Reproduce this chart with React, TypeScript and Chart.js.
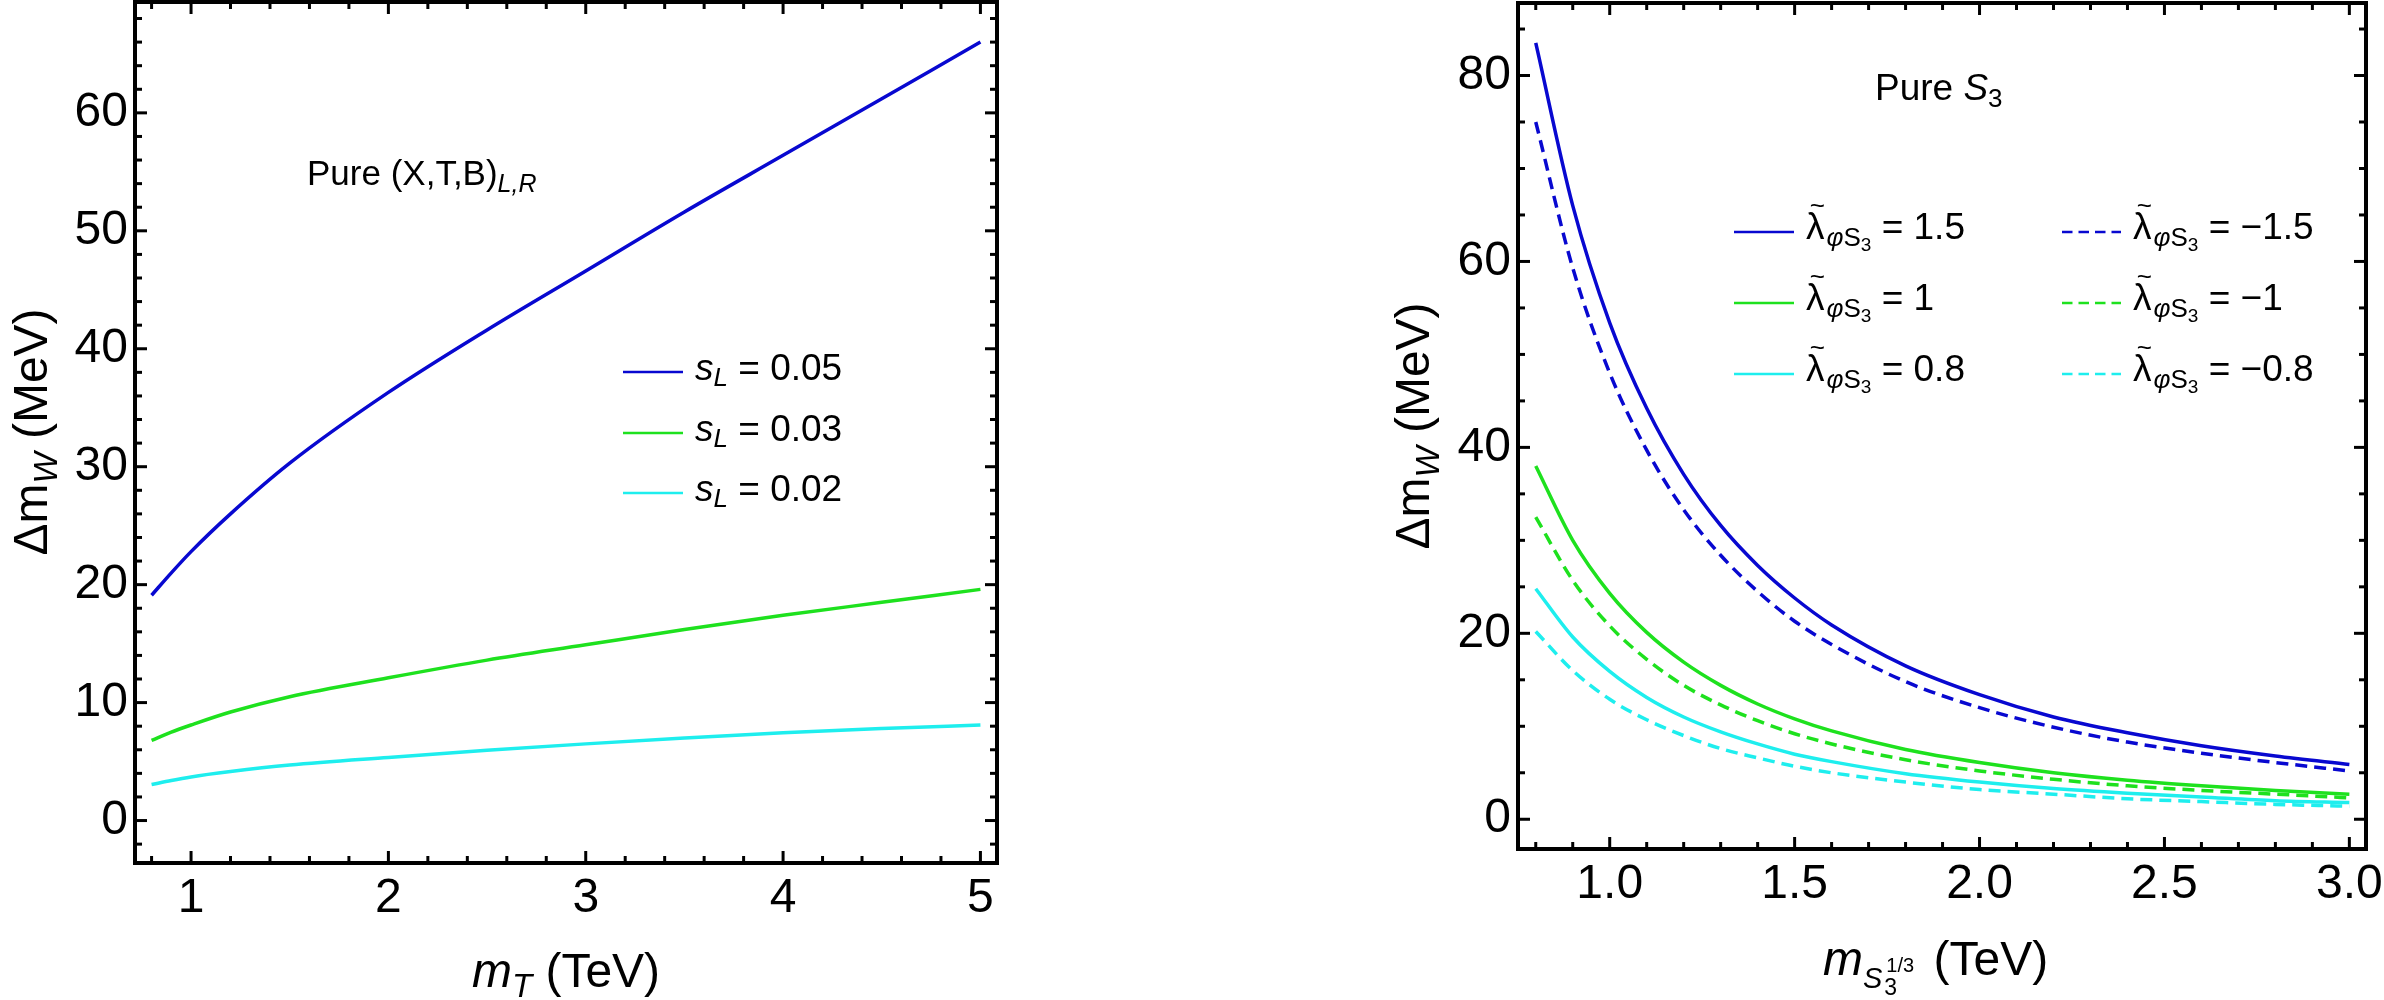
import React, { useEffect, useRef } from "react";
import { Chart, registerables } from "chart.js";

Chart.register(...registerables);

const FONT = '"Liberation Sans", Arial, Helvetica, sans-serif';
const BLUE = "#0808d0";
const GREEN = "#1ee11e";
const CYAN = "#1eeeee";

// ---------- Left panel: Pure (X,T,B)_{L,R} ----------
const mT = [0.8, 0.9, 1.0, 1.2, 1.5, 2.0, 2.5, 3.0, 3.5, 4.0, 4.5, 5.0];
const dmW_sL005 = [19.1, 21.0, 22.8, 26.0, 30.3, 36.3, 41.6, 46.6, 51.6, 56.4, 61.2, 66.0];
const dmW_sL003 = [6.8, 7.5, 8.1, 9.2, 10.5, 12.1, 13.6, 14.9, 16.2, 17.4, 18.5, 19.6];
const dmW_sL002 = [3.05, 3.4, 3.7, 4.15, 4.7, 5.35, 5.95, 6.5, 7.0, 7.45, 7.8, 8.1];
const leftLegendLabels = ["0.05", "0.03", "0.02"];
const leftXTicks = [1, 2, 3, 4, 5];
const leftXTickLabels = ["1", "2", "3", "4", "5"];
const leftYTicks = [0, 10, 20, 30, 40, 50, 60];
const leftYTickLabels = ["0", "10", "20", "30", "40", "50", "60"];
const leftXMinorStep = 0.2;
const leftYMinorStep = 2;
const leftXRange = [0.716, 5.084];
const leftYRange = [-3.6, 69.4];

// ---------- Right panel: Pure S3 ----------
const mS3 = [0.8, 0.9, 1.0, 1.1, 1.2, 1.3, 1.4, 1.5, 1.6, 1.8, 2.0, 2.2, 2.4, 2.6, 2.8, 3.0];
const dmW_lam_p15 = [83.5, 66.0, 53.4, 44.2, 37.1, 31.6, 27.3, 23.8, 20.9, 16.5, 13.4, 11.0, 9.3, 7.9, 6.8, 5.9];
const dmW_lam_p1 = [38.0, 30.0, 24.3, 20.1, 16.9, 14.4, 12.4, 10.8, 9.5, 7.5, 6.1, 5.0, 4.2, 3.6, 3.1, 2.7];
const dmW_lam_p08 = [24.8, 19.6, 15.9, 13.1, 11.0, 9.4, 8.1, 7.0, 6.2, 4.9, 4.0, 3.3, 2.8, 2.4, 2.0, 1.8];
const dmW_lam_m15 = [75.0, 59.3, 48.0, 39.7, 33.3, 28.4, 24.5, 21.3, 18.8, 14.8, 12.0, 9.9, 8.3, 7.1, 6.1, 5.2];
const dmW_lam_m1 = [32.5, 25.7, 20.8, 17.2, 14.4, 12.3, 10.6, 9.2, 8.1, 6.4, 5.2, 4.3, 3.6, 3.1, 2.7, 2.3];
const dmW_lam_m08 = [20.2, 16.0, 12.9, 10.7, 9.0, 7.6, 6.6, 5.7, 5.0, 4.0, 3.2, 2.7, 2.2, 1.9, 1.6, 1.4];
const rightLegendPos = ["1.5", "1", "0.8"];
const rightLegendNeg = ["\u22121.5", "\u22121", "\u22120.8"];
const rightXTicks = [1.0, 1.5, 2.0, 2.5, 3.0];
const rightXTickLabels = ["1.0", "1.5", "2.0", "2.5", "3.0"];
const rightYTicks = [0, 20, 40, 60, 80];
const rightYTickLabels = ["0", "20", "40", "60", "80"];
const rightXMinorStep = 0.1;
const rightYMinorStep = 5;
const rightXRange = [0.752, 3.045];
const rightYRange = [-3.2, 87.8];

type Run = { t: string; size: number; italic?: boolean; dy?: number; dx?: number };

function runsWidth(ctx: CanvasRenderingContext2D, runs: Run[]) {
  let w = 0;
  for (const r of runs) {
    ctx.font = `${r.italic ? "italic " : ""}${r.size}px ${FONT}`;
    w += (r.dx ?? 0) + ctx.measureText(r.t).width;
  }
  return w;
}

function drawRuns(ctx: CanvasRenderingContext2D, x: number, y: number, runs: Run[]) {
  let cx = x;
  ctx.textBaseline = "alphabetic";
  ctx.textAlign = "left";
  for (const r of runs) {
    ctx.font = `${r.italic ? "italic " : ""}${r.size}px ${FONT}`;
    cx += r.dx ?? 0;
    ctx.fillText(r.t, cx, y + (r.dy ?? 0));
    cx += ctx.measureText(r.t).width;
  }
  return cx;
}

function drawRotated(ctx: CanvasRenderingContext2D, x: number, cy: number, runs: Run[]) {
  ctx.save();
  ctx.translate(x, cy);
  ctx.rotate(-Math.PI / 2);
  const w = runsWidth(ctx, runs);
  drawRuns(ctx, -w / 2, 0, runs);
  ctx.restore();
}

function drawLambda(ctx: CanvasRenderingContext2D, x: number, y: number, label: string) {
  ctx.font = `37px ${FONT}`;
  ctx.textBaseline = "alphabetic";
  ctx.textAlign = "left";
  ctx.fillText("\u03bb", x, y);
  const lw = ctx.measureText("\u03bb").width;
  ctx.font = `26px ${FONT}`;
  const tw = ctx.measureText("~").width;
  ctx.fillText("~", x + lw / 2 - tw / 2 + 2, y - 25);
  drawRuns(ctx, x + lw, y, [
    { t: "\u03c6", size: 26, italic: true, dy: 7, dx: 2 },
    { t: "S", size: 26, dy: 7 },
    { t: "3", size: 19, dy: 12 },
    { t: " = " + label, size: 37 },
  ]);
}

function legendLine(ctx: CanvasRenderingContext2D, x1: number, x2: number, y: number, color: string, dashed: boolean) {
  ctx.save();
  ctx.strokeStyle = color;
  ctx.lineWidth = 2.5;
  ctx.setLineDash(dashed ? [10.5, 6] : []);
  ctx.beginPath();
  ctx.moveTo(x1, y);
  ctx.lineTo(x2, y);
  ctx.stroke();
  ctx.restore();
}

function frameTicksPlugin(
  xMajor: number[],
  yMajor: number[],
  xMinorStep: number,
  yMinorStep: number,
  drawText: (ctx: CanvasRenderingContext2D) => void
) {
  return {
    id: "frameTicks",
    afterDraw(chart: any) {
      const { ctx, chartArea: a, scales } = chart;
      const xs = scales.x;
      const ys = scales.y;
      ctx.save();
      ctx.strokeStyle = "#000";
      ctx.lineWidth = 3;
      const seg = (x1: number, y1: number, x2: number, y2: number) => {
        ctx.beginPath();
        ctx.moveTo(x1, y1);
        ctx.lineTo(x2, y2);
        ctx.stroke();
      };
      const isMajor = (v: number, arr: number[]) => arr.some((m) => Math.abs(m - v) < 1e-6);
      const xTick = (v: number, len: number) => {
        const p = xs.getPixelForValue(v);
        seg(p, a.bottom, p, a.bottom - len);
        seg(p, a.top, p, a.top + len);
      };
      const yTick = (v: number, len: number) => {
        const p = ys.getPixelForValue(v);
        seg(a.left, p, a.left + len, p);
        seg(a.right, p, a.right - len, p);
      };
      for (let k = Math.ceil(xs.min / xMinorStep - 1e-9); k * xMinorStep <= xs.max + 1e-9; k++) {
        const v = Math.round(k * xMinorStep * 1000) / 1000;
        if (!isMajor(v, xMajor)) xTick(v, 7);
      }
      for (let k = Math.ceil(ys.min / yMinorStep - 1e-9); k * yMinorStep <= ys.max + 1e-9; k++) {
        const v = Math.round(k * yMinorStep * 1000) / 1000;
        if (!isMajor(v, yMajor)) yTick(v, 7);
      }
      xMajor.forEach((v) => xTick(v, 12));
      yMajor.forEach((v) => yTick(v, 12));
      ctx.lineWidth = 4;
      ctx.strokeRect(a.left, a.top, a.right - a.left, a.bottom - a.top);
      ctx.fillStyle = "#000";
      drawText(ctx);
      ctx.restore();
    },
  };
}

function makeScales(
  xRange: number[],
  yRange: number[],
  xTicks: number[],
  xLabels: string[],
  yTicks: number[],
  yLabels: string[],
  yWidth: number,
  xHeight: number
) {
  const tickFont = { family: FONT, size: 48 };
  return {
    x: {
      type: "linear",
      min: xRange[0],
      max: xRange[1],
      grid: { display: false, drawTicks: false },
      border: { display: false },
      afterBuildTicks: (s: any) => {
        s.ticks = xTicks.map((v) => ({ value: v }));
      },
      afterFit: (s: any) => {
        s.height = xHeight;
        s.paddingLeft = 0;
        s.paddingRight = 0;
      },
      ticks: {
        font: tickFont,
        color: "#000",
        padding: 7,
        maxRotation: 0,
        minRotation: 0,
        autoSkip: false,
        callback: (_v: any, i: number) => xLabels[i],
      },
    },
    y: {
      type: "linear",
      min: yRange[0],
      max: yRange[1],
      grid: { display: false, drawTicks: false },
      border: { display: false },
      afterBuildTicks: (s: any) => {
        s.ticks = yTicks.map((v) => ({ value: v }));
      },
      afterFit: (s: any) => {
        s.width = yWidth;
        s.paddingTop = 0;
        s.paddingBottom = 0;
      },
      ticks: {
        font: tickFont,
        color: "#000",
        padding: 7,
        autoSkip: false,
        callback: (_v: any, i: number) => yLabels[i],
      },
    },
  };
}

function series(xs: number[], ys: number[], color: string, dashed: boolean) {
  return {
    data: xs.map((x, i) => ({ x, y: ys[i] })),
    borderColor: color,
    backgroundColor: color,
    borderWidth: 3.5,
    borderDash: dashed ? [12, 7] : [],
    pointRadius: 0,
    pointHoverRadius: 0,
    fill: false,
    cubicInterpolationMode: "monotone",
  };
}

function leftConfig(): any {
  const drawText = (ctx: CanvasRenderingContext2D) => {
    // annotation
    drawRuns(ctx, 307, 185, [
      { t: "Pure (X,T,B)", size: 35 },
      { t: "L,R", size: 25, italic: true, dy: 7 },
    ]);
    // legend
    const rows = [372, 433, 493];
    const cols = [BLUE, GREEN, CYAN];
    rows.forEach((y, i) => {
      legendLine(ctx, 623, 683, y, cols[i], false);
      drawRuns(ctx, 695, y + 8, [
        { t: "s", size: 37, italic: true },
        { t: "L", size: 26, italic: true, dy: 6 },
        { t: " = " + leftLegendLabels[i], size: 37 },
      ]);
    });
    // x title (centered on plot)
    const xt: Run[] = [
      { t: "m", size: 48, italic: true },
      { t: "T", size: 33, italic: true, dy: 10 },
      { t: " (TeV)", size: 48 },
    ];
    const w = runsWidth(ctx, xt);
    drawRuns(ctx, 566 - w / 2, 987, xt);
    // y title
    drawRotated(ctx, 47, 432, [
      { t: "\u0394m", size: 48 },
      { t: "W", size: 33, italic: true, dy: 10 },
      { t: " (MeV)", size: 48 },
    ]);
  };
  return {
    type: "line",
    data: {
      datasets: [
        series(mT, dmW_sL005, BLUE, false),
        series(mT, dmW_sL003, GREEN, false),
        series(mT, dmW_sL002, CYAN, false),
      ],
    },
    options: {
      animation: false,
      responsive: false,
      maintainAspectRatio: false,
      layout: { autoPadding: false, padding: { left: 0, top: 2, right: 195, bottom: 0 } },
      plugins: { legend: { display: false }, tooltip: { enabled: false }, title: { display: false } },
      scales: makeScales(leftXRange, leftYRange, leftXTicks, leftXTickLabels, leftYTicks, leftYTickLabels, 135, 137),
    },
    plugins: [frameTicksPlugin(leftXTicks, leftYTicks, leftXMinorStep, leftYMinorStep, drawText)],
  };
}

function rightConfig(): any {
  const ox = 1192;
  const drawText = (ctx: CanvasRenderingContext2D) => {
    drawRuns(ctx, 1875 - ox, 100, [
      { t: "Pure ", size: 37 },
      { t: "S", size: 37, italic: true },
      { t: "3", size: 26, dy: 7 },
    ]);
    const rows = [232, 303, 374];
    const cols = [BLUE, GREEN, CYAN];
    rows.forEach((y, i) => {
      legendLine(ctx, 1734 - ox, 1794 - ox, y, cols[i], false);
      drawLambda(ctx, 1806 - ox, y + 7, rightLegendPos[i]);
      legendLine(ctx, 2062 - ox, 2121 - ox, y, cols[i], true);
      drawLambda(ctx, 2133 - ox, y + 7, rightLegendNeg[i]);
    });
    // x title
    const x0 = 1823 - ox;
    const y0 = 975;
    let cx = drawRuns(ctx, x0, y0, [{ t: "m", size: 48, italic: true }]);
    cx = drawRuns(ctx, cx, y0, [{ t: "S", size: 29, italic: true, dy: 13 }]);
    const e1 = drawRuns(ctx, cx + 4, y0, [{ t: "1/3", size: 20, dy: -3 }]);
    const e2 = drawRuns(ctx, cx + 2, y0, [{ t: "3", size: 23, dy: 20 }]);
    drawRuns(ctx, Math.max(e1, e2) + 6, y0, [{ t: " (TeV)", size: 48 }]);
    // y title
    drawRotated(ctx, 1429 - ox, 426, [
      { t: "\u0394m", size: 48 },
      { t: "W", size: 33, italic: true, dy: 10 },
      { t: " (MeV)", size: 48 },
    ]);
  };
  return {
    type: "line",
    data: {
      datasets: [
        series(mS3, dmW_lam_p15, BLUE, false),
        series(mS3, dmW_lam_p1, GREEN, false),
        series(mS3, dmW_lam_p08, CYAN, false),
        series(mS3, dmW_lam_m15, BLUE, true),
        series(mS3, dmW_lam_m1, GREEN, true),
        series(mS3, dmW_lam_m08, CYAN, true),
      ],
    },
    options: {
      animation: false,
      responsive: false,
      maintainAspectRatio: false,
      layout: { autoPadding: false, padding: { left: 0, top: 3, right: 18, bottom: 0 } },
      plugins: { legend: { display: false }, tooltip: { enabled: false }, title: { display: false } },
      scales: makeScales(rightXRange, rightYRange, rightXTicks, rightXTickLabels, rightYTicks, rightYTickLabels, 326, 151),
    },
    plugins: [frameTicksPlugin(rightXTicks, rightYTicks, rightXMinorStep, rightYMinorStep, drawText)],
  };
}

export default function App() {
  const leftRef = useRef<HTMLCanvasElement>(null);
  const rightRef = useRef<HTMLCanvasElement>(null);
  useEffect(() => {
    const c1 = new Chart(leftRef.current as HTMLCanvasElement, leftConfig());
    const c2 = new Chart(rightRef.current as HTMLCanvasElement, rightConfig());
    return () => {
      c1.destroy();
      c2.destroy();
    };
  }, []);
  return (
    <div style={{ position: "absolute", left: 0, top: 0, width: 2384, height: 1000, background: "#fff" }}>
      <canvas
        ref={leftRef}
        width={1192}
        height={1000}
        style={{ position: "absolute", left: 0, top: 0, width: 1192, height: 1000 }}
      />
      <canvas
        ref={rightRef}
        width={1192}
        height={1000}
        style={{ position: "absolute", left: 1192, top: 0, width: 1192, height: 1000 }}
      />
    </div>
  );
}
